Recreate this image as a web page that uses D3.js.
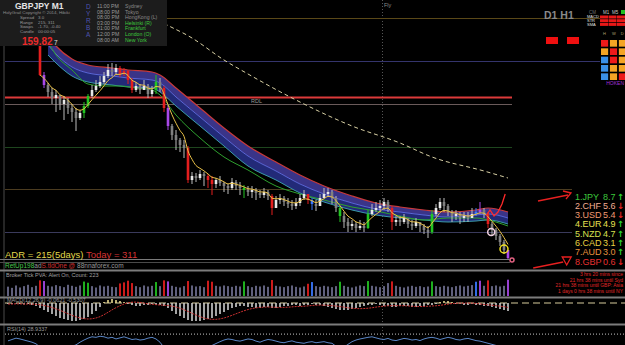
<!DOCTYPE html>
<html><head><meta charset="utf-8">
<script src="https://cdn.jsdelivr.net/npm/d3@7"></script>
<style>html,body{margin:0;padding:0;background:#000;overflow:hidden}svg{display:block}</style>
</head><body>
<svg id="c" width="625" height="345"></svg>
<script>
// ---------------- DATA ----------------
const symbol = "GBPJPY", timeframe = "M1";
const firstOpen = 161.95;
const closes = [161.65,161.55,161.48,161.42,161.45,161.36,161.40,161.32,161.28,161.22,
161.27,161.34,161.44,161.50,161.54,161.58,161.64,161.70,161.68,161.72,
161.66,161.69,161.60,161.50,161.54,161.50,161.54,161.46,161.50,161.58,
161.52,161.32,161.14,161.05,161.00,160.95,160.92,160.60,160.64,160.62,
160.66,160.64,160.60,160.56,160.60,160.57,160.54,160.52,160.58,160.54,
160.52,160.50,160.48,160.50,160.47,160.45,160.48,160.44,160.32,160.40,
160.42,160.38,160.36,160.34,160.37,160.42,160.46,160.40,160.36,160.34,
160.42,160.46,160.48,160.42,160.32,160.24,160.18,160.14,160.16,160.12,
160.14,160.12,160.26,160.30,160.32,160.34,160.38,160.32,160.18,160.20,
160.18,160.22,160.16,160.14,160.18,160.14,160.10,160.08,160.26,160.32,
160.38,160.34,160.28,160.24,160.26,160.22,160.24,160.22,160.26,160.28,
160.30,160.26,160.16,160.10,160.04,159.98,159.90,159.82];
const highs = [161.96,161.68,161.57,161.52,161.50,161.45,161.44,161.42,161.36,161.32,
161.30,161.38,161.46,161.55,161.60,161.64,161.68,161.76,161.77,161.76,
161.74,161.72,161.70,161.62,161.58,161.56,161.60,161.56,161.54,161.65,
161.62,161.54,161.35,161.16,161.10,161.02,161.00,160.94,160.68,160.67,
160.70,160.68,160.66,160.64,160.62,160.64,160.58,160.56,160.62,160.60,
160.58,160.55,160.54,160.54,160.52,160.50,160.52,160.50,160.46,160.44,
160.46,160.44,160.42,160.40,160.42,160.46,160.50,160.46,160.42,160.40,
160.46,160.52,160.52,160.50,160.44,160.34,160.28,160.22,160.20,160.18,
160.20,160.18,160.30,160.36,160.38,160.40,160.42,160.40,160.34,160.24,
160.24,160.26,160.22,160.20,160.22,160.18,160.16,160.14,160.30,160.36,
160.42,160.42,160.36,160.30,160.30,160.28,160.28,160.28,160.32,160.32,
160.38,160.32,160.28,160.18,160.12,160.06,160.00,159.88];
const lows = [161.64,161.52,161.43,161.36,161.28,161.30,161.20,161.26,161.18,161.09,
161.20,161.22,161.32,161.42,161.48,161.52,161.56,161.62,161.64,161.66,
161.63,161.64,161.56,161.47,161.48,161.46,161.51,161.42,161.43,161.46,
161.48,161.28,161.10,161.00,160.90,160.88,160.82,160.57,160.56,160.58,
160.60,160.54,160.52,160.45,160.52,160.54,160.48,160.46,160.50,160.50,
160.45,160.42,160.44,160.42,160.40,160.42,160.42,160.40,160.25,160.34,
160.36,160.34,160.32,160.30,160.31,160.34,160.40,160.36,160.30,160.29,
160.34,160.42,160.43,160.36,160.28,160.18,160.12,160.08,160.10,160.08,
160.10,160.08,160.11,160.24,160.28,160.28,160.30,160.28,160.10,160.14,
160.14,160.16,160.12,160.10,160.12,160.08,160.06,160.02,160.06,160.24,
160.30,160.28,160.24,160.18,160.20,160.16,160.18,160.18,160.22,160.24,
160.26,160.22,160.12,160.04,160.00,159.94,159.86,159.78];
const candleOffset = 8; // candle i sits at bar slot i+8 (earlier bars are above the window)

const volumes = [55,48,62,50,58,66,52,60,92,88,
60,56,64,58,52,66,60,54,62,85,
78,58,50,62,56,60,54,52,74,80,
90,76,58,52,62,56,60,82,58,92,
86,60,54,50,58,88,62,56,58,52,
90,84,60,56,62,58,54,60,56,86,
58,52,60,56,62,54,94,60,56,52,
58,62,54,50,56,72,82,58,54,60,
56,52,58,84,60,54,50,56,62,58,
88,60,56,52,58,76,86,60,54,50,
56,60,54,58,52,56,86,58,54,60,
56,52,58,62,56,60,64,84,90,60,
92,58,62,56,60,96];
const volRed = [8,28,29,30,31,39,45,50,51,66,75,96,120];
const volGreen = [19,20,37,59,83,90,106];
const volPurple = [9,40,118,125];
const volBlue = [76,117];

const macd = [-0.01,-0.01,-0.005,-0.01,-0.015,-0.01,-0.02,-0.03,-0.05,-0.07,
-0.09,-0.11,-0.13,-0.15,-0.16,-0.17,-0.18,-0.18,-0.17,-0.16,
-0.14,-0.11,-0.08,-0.04,0.01,0.03,0.04,0.03,0.02,0.01,
-0.01,-0.02,-0.03,-0.03,-0.02,-0.02,-0.01,-0.02,-0.02,-0.03,
-0.05,-0.08,-0.11,-0.13,-0.15,-0.17,-0.18,-0.18,-0.18,-0.17,
-0.16,-0.15,-0.13,-0.11,-0.09,-0.07,-0.05,-0.04,-0.03,-0.03,
-0.04,-0.04,-0.05,-0.05,-0.04,-0.04,-0.05,-0.05,-0.04,-0.03,
-0.03,-0.02,-0.02,-0.03,-0.02,-0.02,-0.01,-0.02,-0.02,-0.03,
-0.04,-0.05,-0.06,-0.07,-0.07,-0.07,-0.06,-0.05,-0.04,-0.03,
-0.02,-0.02,-0.01,-0.02,-0.03,-0.03,-0.04,-0.04,-0.03,-0.03,
-0.03,-0.04,-0.04,-0.03,-0.03,-0.02,-0.02,-0.01,0.01,0.02,
0.02,0.01,-0.01,-0.01,-0.02,-0.02,-0.01,-0.02,-0.02,-0.03,
-0.03,-0.04,-0.05,-0.06,-0.07,-0.08];

const rsi = [45,50,55,52,48,44,40,34,22,15,
18,14,20,18,16,22,25,30,40,48,
55,60,58,62,60,55,58,52,56,60,
55,50,52,48,50,55,58,52,40,20,
15,12,18,14,16,20,22,18,25,20,
22,28,35,42,48,52,50,46,44,48,
52,50,44,40,46,50,48,44,40,38,
42,45,40,38,36,40,42,38,40,42,
38,36,25,20,22,32,42,48,52,55,
58,60,56,52,50,54,48,46,50,54,
52,48,50,46,52,56,58,55,50,54,
58,55,50,48,52,54,50,46,44,40,
36,32,28,22,18,15];

// GMMA ribbon, sampled at candle indices
const ribbonIdx = [2,4,8,12,18,22,28,30,34,40,46,52,59,65,71,78,84,90,96,102,109,112,117];
const ribbonTop = [162.04,161.94,161.81,161.75,161.72,161.70,161.68,161.65,161.52,161.32,161.12,160.94,160.78,160.65,160.54,160.44,160.37,160.33,160.30,160.28,160.30,160.32,160.28];
const ribbonMid = [161.95,161.86,161.73,161.67,161.64,161.62,161.60,161.57,161.43,161.23,161.03,160.84,160.69,160.56,160.46,160.37,160.31,160.28,160.25,160.23,160.25,160.26,160.22];
const ribbonBot = [161.85,161.77,161.64,161.58,161.55,161.53,161.52,161.48,161.34,161.14,160.94,160.74,160.60,160.47,160.38,160.30,160.25,160.22,160.20,160.18,160.19,160.20,160.16];
const greenIdx = [2,4,8,12,16,20,24,28,30,34,40,46,52,59,65,71,78,84,90,96,102,109,112,117];
const greenMA = [161.98,161.85,161.70,161.56,161.54,161.54,161.52,161.50,161.45,161.25,161.02,160.83,160.70,160.54,160.46,160.40,160.33,160.29,160.24,160.20,160.22,160.22,160.20,160.14];
const slowIdx = [28,30,38,46,52,64,78,90,98,111,117];
const slowMA = [162.24,162.19,162.02,161.80,161.66,161.40,161.14,160.97,160.83,160.69,160.62];
const emaPeriod = 5;

const levelPrices = [162.22, 161.79, 161.43, 161.36, 160.93, 160.51, 160.08];

// annotations [bar slot, price]
const redScribble = [[119.5,160.24],[120.5,160.30],[121.5,160.24],[122.5,160.28],[123.5,160.36],[124.3,160.46]];
const markerRings = [[120.8,160.08],[124,159.91],[126,159.80]];
const arrowTop = [[132.5,160.39],[140,160.45]];
const arrowBot = [[131.3,159.72],[138.8,159.78]];

const currencies = ["JPY","CHF","USD","EUR","NZD","CAD","AUD","GBP"];
const strengths = [8.7,5.6,5.4,4.9,4.7,3.1,3.0,0.6];
const trends = ["up","down","down","up","up","up","up","down"];

const sessionTimes = ["11:00 PM","08:00 PM","08:00 PM","03:00 PM","01:00 PM","12:00 PM","08:00 AM"];
const sessionCities = ["Sydney","Tokyo","HongKong (L)","Helsinki (R)","Frankfurt","London (O)","New York"];
const sessionOpen = [false,false,false,true,true,true,true];
const infoLabels = ["Spread","Range","Swaps","Candle"];
const infoValues = ["3.0","215, 311","-1.70, -0.40","00:00:05"];
const bidPrice = "159.82", bidDigit = "7";
const adr5 = 215, adrToday = 311;
const gridCodes = [["r","o","o"],["o","r","o"],["b","r","o"],["b","o","o"],["b","o","r"]];
const countdowns = ["3 hrs 20 mins since","21 hrs 38 mins until Syd","21 hrs 38 mins until GBP: Asia","1 days 0 hrs 38 mins until NY"];

// ---------------- DRAW ----------------
const FONT = "'Liberation Sans', Arial, sans-serif";
const svg = d3.select("#c");
svg.append("rect").attr("width",625).attr("height",345).attr("fill","#000");
const defs = svg.append("defs");
defs.append("clipPath").attr("id","mainClip").append("rect").attr("x",5).attr("y",0).attr("width",508).attr("height",259);
defs.append("clipPath").attr("id","rsiClip").append("rect").attr("x",5).attr("y",326).attr("width",620).attr("height",19);

const x = d3.scaleLinear().domain([0,125]).range([8,508]);
const y = d3.scaleLinear().domain([159.80,162.40]).range([260,0]);
const yVol = d3.scaleLinear().domain([0,100]).range([296,279]);
const yMacd = d3.scaleLinear().domain([-0.19,0.05]).range([322,298]);
const yRsi = d3.scaleLinear().domain([0,100]).range([353,326]);

function cls(j){
  if (volRed.includes(j)) return "#e41e1e";
  if (volGreen.includes(j)) return "#22c422";
  if (volPurple.includes(j)) return "#a848e8";
  if (volBlue.includes(j)) return "#3a78ff";
  return null;
}

// left border & vertical marker
svg.append("line").attr("x1",4).attr("x2",4).attr("y1",0).attr("y2",345).attr("stroke","#4a4a4a");
svg.append("line").attr("x1",382.5).attr("x2",382.5).attr("y1",0).attr("y2",345)
  .attr("stroke","#555").attr("stroke-dasharray","1,2");

// horizontal levels
const lvColors = ["#5a4818","#34346c","#dc3a3a","#6a5a5a","#1e461e","#4c3c20","#3a3a5c"];
const lvWidth = [1,1,2,1,1,1,1];
const lvX1 = [167,5,5,5,5,5,5];
const lvX2 = [600,600,512,512,512,572,572];
levelPrices.forEach((p,k)=>{
  svg.append("line").attr("x1",lvX1[k]).attr("x2",lvX2[k]).attr("y1",Math.round(y(p))+0.5).attr("y2",Math.round(y(p))+0.5)
   .attr("stroke",lvColors[k]).attr("stroke-width",lvWidth[k]);
});
svg.append("text").attr("x",251).attr("y",y(161.395)+2).text("RDL").attr("fill","#9a9a9a")
  .attr("font-size",5.5).attr("font-family",FONT);
svg.append("text").attr("x",384).attr("y",7).text("Fly").attr("fill","#8a8a8a").attr("font-size",5.5).attr("font-family",FONT);

const main = svg.append("g").attr("clip-path","url(#mainClip)");

// ribbon
const rx = i => x(i + candleOffset);
const areaTM = d3.area().curve(d3.curveMonotoneX).x((d,k)=>rx(ribbonIdx[k])).y0((d,k)=>y(ribbonMid[k])).y1((d,k)=>y(ribbonTop[k]));
const areaMB = d3.area().curve(d3.curveMonotoneX).x((d,k)=>rx(ribbonIdx[k])).y0((d,k)=>y(ribbonBot[k])).y1((d,k)=>y(ribbonMid[k]));
main.append("path").datum(ribbonIdx).attr("d",areaTM).attr("fill","#3a3488");
main.append("path").datum(ribbonIdx).attr("d",areaMB).attr("fill","#222a78");
const lineOf = (idx,vals)=> d3.line().curve(d3.curveMonotoneX).x((d,k)=>rx(idx[k])).y((d,k)=>y(vals[k]))(idx);
main.append("path").attr("d",lineOf(ribbonIdx,ribbonTop)).attr("fill","none").attr("stroke","#c83a3a").attr("stroke-width",1.2);
main.append("path").attr("d",lineOf(ribbonIdx,ribbonMid)).attr("fill","none").attr("stroke","#5a66d8").attr("stroke-width",1);
main.append("path").attr("d",lineOf(ribbonIdx,ribbonBot)).attr("fill","none").attr("stroke","#3a9aa8").attr("stroke-width",1);
main.append("path").attr("d",lineOf(greenIdx,greenMA)).attr("fill","none").attr("stroke","#2ea02e").attr("stroke-width",1);
main.append("path").attr("d",lineOf(slowIdx,slowMA)).attr("fill","none").attr("stroke","#d8d0a4").attr("stroke-width",1).attr("stroke-dasharray","4,3");

// candles
const cg = main.append("g");
closes.forEach((c,i)=>{
  const j = i + candleOffset, o = i ? closes[i-1] : firstOpen;
  const col = cls(j), bull = c >= o;
  const hi = Math.max(highs[i],o,c), lo = Math.min(lows[i],o,c);
  cg.append("line").attr("x1",x(j)).attr("x2",x(j)).attr("y1",y(hi)).attr("y2",y(lo))
    .attr("stroke", col || "#bcbcbc").attr("stroke-width",1);
  const top = y(Math.max(o,c)), h = Math.max(1, Math.abs(y(o)-y(c)));
  cg.append("rect").attr("x",x(j)-1.3).attr("width",2.6).attr("y",top).attr("height",h)
    .attr("fill", col || (bull ? "#e8e8e8" : "#808080"));
});
// fast EMA
const ema = []; closes.forEach((c,i)=>{ ema.push(i ? ema[i-1] + 2/(emaPeriod+1)*(c-ema[i-1]) : c); });
main.append("path").datum(ema).attr("d", d3.line().curve(d3.curveMonotoneX).x((d,i)=>rx(i)).y(d=>y(d)))
  .attr("fill","none").attr("stroke","#e8c048").attr("stroke-width",1);

// annotations
const pt = d => [x(d[0]), y(d[1])];
main.append("path").attr("d", d3.line()(redScribble.map(pt))).attr("fill","none").attr("stroke","#ff2a2a").attr("stroke-width",1.3);
const ringCols = ["#f0d0e0","#f0e020","#e06080"], ringR = [3.5,4,2];
markerRings.forEach((d,k)=>{
  svg.append("circle").attr("cx",pt(d)[0]).attr("cy",pt(d)[1]).attr("r",ringR[k]).attr("fill","none")
   .attr("stroke",ringCols[k]).attr("stroke-width",1.5);
});
[arrowTop, arrowBot].forEach((a,k)=>{
  const p0 = pt(a[0]), p1 = pt(a[1]);
  svg.append("line").attr("x1",p0[0]).attr("y1",p0[1]).attr("x2",p1[0]).attr("y2",p1[1]).attr("stroke","#e82020").attr("stroke-width",1.3);
  const hx = p1[0], hy = p1[1];
  const head = k===0 ? `M${hx-5},${hy-4}L${hx+3},${hy-2}L${hx-2},${hy+4}` : `M${hx-1},${hy-5}L${hx+8},${hy-5}L${hx+3.5},${hy+3}Z`;
  svg.append("path").attr("d",head).attr("fill","none").attr("stroke","#e82020").attr("stroke-width",1.3);
});

// bottom lines of main panel
svg.append("line").attr("x1",0).attr("x2",510).attr("y1",259.5).attr("y2",259.5).attr("stroke","#7a7a7a").attr("stroke-width",1.2);
svg.append("line").attr("x1",0).attr("x2",510).attr("y1",262.5).attr("y2",262.5).attr("stroke","#4a4a4a").attr("stroke-width",1);
[270.5,297.5,324.5].forEach(v=>svg.append("line").attr("x1",0).attr("x2",625).attr("y1",v).attr("y2",v).attr("stroke","#7c7c7c").attr("stroke-width",2));

// ADR text
const adr = svg.append("text").attr("x",5).attr("y",257.5).attr("font-size",9.5).attr("font-family",FONT);
adr.append("tspan").attr("fill","#e2d84a").text(`ADR = ${adr5}(5days)`);
adr.append("tspan").attr("fill","#d43434").text(`  Today = ${adrToday}`);
const ret = svg.append("text").attr("x",5).attr("y",268).attr("font-size",6.5).attr("font-family",FONT);
ret.append("tspan").attr("fill","#4ec84e").text("RetUp198");
ret.append("tspan").attr("fill","#9a9a9a").text("ad");
ret.append("tspan").attr("fill","#d03030").text("S.tldOne @ ");
ret.append("tspan").attr("fill","#9a9a9a").text("88nnaforex.com");

// volume panel
svg.append("text").attr("x",6).attr("y",277).text("Broker Tick PVA:    Alert On,   Count: 223").attr("fill","#a0a0a0").attr("font-size",5.5).attr("font-family",FONT);
volumes.forEach((v,j)=>{
  svg.append("rect").attr("x",x(j)-0.9).attr("width",1.8).attr("y",yVol(v)).attr("height",296-yVol(v))
    .attr("fill", cls(j) || "#6c6c8c");
});
const cdY = [276,281.5,287,292.5];
countdowns.forEach((t,k)=>svg.append("text").attr("x",623).attr("y",cdY[k]).attr("text-anchor","end").text(t)
  .attr("fill","#e02828").attr("font-size",5).attr("font-family",FONT));

// MACD panel
svg.append("line").attr("x1",5).attr("x2",625).attr("y1",yMacd(0)).attr("y2",yMacd(0)).attr("stroke","#d8cc9c").attr("stroke-width",1).attr("stroke-dasharray","7,4");
macd.forEach((v,j)=>{
  svg.append("line").attr("x1",x(j)).attr("x2",x(j)).attr("y1",yMacd(0)).attr("y2",yMacd(v))
   .attr("stroke", v>=0 ? "#e6d890" : "#cfcfcf").attr("stroke-width",1.6);
});
const signal = macd.map((v,j)=>d3.mean(macd.slice(Math.max(0,j-8), j+1)));
svg.append("path").datum(signal).attr("d",d3.line().x((d,j)=>x(j)).y(d=>yMacd(d))).attr("fill","none")
  .attr("stroke","#c83030").attr("stroke-width",1).attr("stroke-dasharray","2,1");
svg.append("text").attr("x",7).attr("y",302).text("MACD(12,26,9) -0.0621 -0.5307").attr("fill","#9a9a9a").attr("font-size",5.5).attr("font-family",FONT);

// RSI panel
svg.append("text").attr("x",7).attr("y",331).text("RSI(14) 28.9337").attr("fill","#9a9a9a").attr("font-size",5.5).attr("font-family",FONT);
svg.append("line").attr("x1",5).attr("x2",625).attr("y1",yRsi(70)).attr("y2",yRsi(70)).attr("stroke","#c8c8c8").attr("stroke-dasharray","1,2");
svg.append("path").datum(rsi).attr("clip-path","url(#rsiClip)").attr("d",d3.line().x((d,j)=>x(j)).y(d=>yRsi(d)))
  .attr("fill","none").attr("stroke","#5a86c6").attr("stroke-width",1);

// currency strength list
const rowY = d3.scalePoint().domain(d3.range(currencies.length)).range([199.5,264.5]);
const curCols = ["#3cc83c","#f2ac92","#f09a72","#e8e050","#d8e050","#e8d040","#e8923e","#e83030"];
currencies.forEach((c,k)=>{
  const g = svg.append("g").attr("font-family",FONT).attr("font-size",9);
  g.append("text").attr("x",575).attr("y",rowY(k)).text(`${k+1}.${c}`).attr("fill",curCols[k]);
  g.append("text").attr("x",603).attr("y",rowY(k)).text(strengths[k].toFixed(1)).attr("fill",curCols[k]);
  g.append("text").attr("x",617).attr("y",rowY(k)).text(trends[k]==="up"?"↑":"↓")
   .attr("fill",trends[k]==="up"?"#2ed22e":"#e82020").attr("font-family","'DejaVu Sans'").attr("font-weight","bold").attr("font-size",8.5);
});

// top-right dashboard
svg.append("text").attr("x",544).attr("y",19).text("D1  H1").attr("fill","#8a8a8a").attr("font-size",10.5).attr("font-weight","bold").attr("font-family",FONT);
svg.append("rect").attr("x",546).attr("y",37).attr("width",12).attr("height",7).attr("fill","#f01010");
svg.append("rect").attr("x",567).attr("y",37).attr("width",12).attr("height",7).attr("fill","#f01010");
const hdr = ["CM","M1","M5"], hdrX = [589,603,612];
hdr.forEach((t,k)=>svg.append("text").attr("x",hdrX[k]).attr("y",13.5).text(t).attr("fill",k?"#c8c8c8":"#707070").attr("font-size",4.5).attr("font-family",FONT));
svg.append("rect").attr("x",621).attr("y",10).attr("width",4).attr("height",4).attr("fill","#20c020");
const rowsT = ["MACD","STR","SMA"];
rowsT.forEach((t,k)=>{
  svg.append("text").attr("x",587).attr("y",18.3+k*3.7).text(t).attr("fill","#e0e0e0").attr("font-size",4).attr("font-family",FONT);
  [0,1,2].forEach(c=>svg.append("rect").attr("x",600+c*8.5).attr("y",15.5+k*3.7).attr("width",8).attr("height",3).attr("fill","#e81818"));
});
const gcol = {r:"#ee1a1a",o:"#f4a424",b:"#3a90e6"};
const gx = d3.scaleBand().domain([0,1,2]).range([601,626]).paddingInner(0.2);
const gy = d3.scaleBand().domain([0,1,2,3,4]).range([40,80]).paddingInner(0.2);
["H","W","D"].forEach((t,c)=>svg.append("text").attr("x",gx(c)+2).attr("y",35).text(t).attr("fill","#b0a070").attr("font-size",4).attr("font-family",FONT));
gridCodes.forEach((row,r)=>row.forEach((code,c)=>{
  svg.append("rect").attr("x",gx(c)).attr("y",gy(r)).attr("width",gx.bandwidth()).attr("height",gy.bandwidth()).attr("fill",gcol[code]);
}));
svg.append("text").attr("x",624).attr("y",84.5).attr("text-anchor","end").text("HOKEN").attr("fill","#a030d8").attr("font-size",5).attr("font-family",FONT);

// info panel (top-left)
svg.append("rect").attr("x",0).attr("y",0).attr("width",167).attr("height",46).attr("fill","#1c1c1c");
const ip = svg.append("g").attr("font-family",FONT);
ip.append("text").attr("x",15).attr("y",8.5).text(`${symbol}   ${timeframe}`).attr("fill","#e4e4e4").attr("font-size",8.5).attr("font-weight","bold");
ip.append("text").attr("x",3).attr("y",14.2).text("HolyGrail Copyright © 2014, Hibiki").attr("fill","#8c8c8c").attr("font-size",4.4);
infoLabels.forEach((t,k)=>{
  ip.append("text").attr("x",20).attr("y",19+k*4.6).text(t).attr("fill","#9a9a9a").attr("font-size",4.4);
  ip.append("text").attr("x",38).attr("y",19+k*4.6).text(infoValues[k]).attr("fill","#9a9a9a").attr("font-size",4.4);
});
ip.append("text").attr("x",22).attr("y",44.5).text(bidPrice).attr("fill","#ec2a2a").attr("font-size",10).attr("font-weight","bold");
ip.append("text").attr("x",54).attr("y",44.5).text(bidDigit).attr("fill","#e0e0e0").attr("font-size",6.5);
["D","Y","R","B","A"].forEach((l,k)=>ip.append("text").attr("x",86).attr("y",9+k*7).text(l).attr("fill","#4c54b0").attr("font-size",6.5));
sessionTimes.forEach((t,k)=>{
  const by = 8 + k*5.6;
  ip.append("text").attr("x",97).attr("y",by).text(t).attr("fill","#9a9a9a").attr("font-size",5.2);
  ip.append("text").attr("x",125).attr("y",by).text(sessionCities[k]).attr("fill",sessionOpen[k]?"#3cc83c":"#8a8a8a").attr("font-size",5.2);
});
</script>
</body></html>
